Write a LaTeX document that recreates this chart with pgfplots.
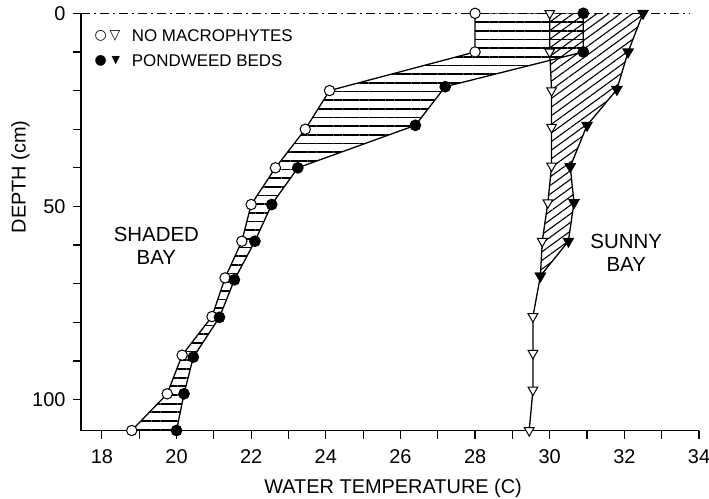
\documentclass[border=0pt]{standalone}
\usepackage{fontspec}
\setmainfont{Liberation Sans}
\newfontfamily\dejavu{DejaVu Sans}
\usepackage{pgfplots}
\pgfplotsset{compat=1.18}
\usetikzlibrary{patterns.meta}

\begin{document}
\begin{tikzpicture}
\useasboundingbox (0,0) rectangle (709bp,499bp);
\begin{axis}[
  at={(81bp,68.5bp)}, anchor=south west,
  width=618bp, height=417.2bp, scale only axis,
  xmin=17.44, xmax=34, ymin=0, ymax=108,
  y dir=reverse,
  axis x line*=bottom, axis y line*=left,
  axis line style={-, line width=1.2bp},
  xtick={18,20,...,34}, minor xtick={19,21,...,33},
  ytick={0,50,100}, minor ytick={10,20,30,40,60,70,80,90},
  tick align=outside,
  major tick length=8bp, minor tick length=8bp,
  tick style={black, line width=1.2bp},
  tick label style={font=\fontsize{20}{22}\selectfont},
  xticklabel style={yshift=-8bp},
  yticklabel style={xshift=-4bp},
  /pgf/number format/assume math mode=true,
  xlabel={WATER TEMPERATURE (C)}, ylabel={DEPTH (cm)},
  label style={font=\fontsize{20}{24}\selectfont},
  xlabel style={at={(axis description cs:0.505,-0.139)}, anchor=center},
  ylabel style={at={(axis description cs:-0.098,0.608)}, anchor=center},
  clip=false,
]
% hatched areas
\addplot[draw=none, forget plot, pattern={Lines[angle=36,distance=7pt,line width=1.1pt]}]
 coordinates {(30.0,0) (30.0,10) (30.05,20) (30.05,29.5) (30.05,39.5) (29.95,49) (29.8,59) (29.75,68)
  (30.5,59) (30.65,49) (30.55,39.7) (31.0,29) (31.8,19.7) (32.1,10) (32.5,0)} -- cycle;
\addplot[draw=none, forget plot, pattern={Lines[angle=0,distance=8.7pt,line width=1.7pt]}]
 coordinates {(28.0,0) (28.0,10) (24.1,20) (23.45,30) (22.65,40) (22.0,49.5) (21.75,59) (21.3,68.5)
  (20.95,78.5) (20.15,88.5) (19.75,98.5) (18.8,108)
  (20.0,108) (20.2,98.5) (20.45,89) (21.15,78.7) (21.55,69) (22.1,59) (22.55,49.5) (23.25,40)
  (26.4,29) (27.2,19) (30.9,10) (30.9,0)} -- cycle;

% top dash-dot line
\addplot[forget plot, black, line width=1.2bp, dash pattern=on 9bp off 4bp on 2bp off 4bp]
 coordinates {(17.44,0) (33.75,0)};

% shaded bay
\addplot[forget plot, black, line width=1.3bp, mark=*, mark size=5.2bp,
  mark options={solid, fill=white, line width=1bp}]
 coordinates {(28.0,0) (28.0,10) (24.1,20) (23.45,30) (22.65,40) (22.0,49.5) (21.75,59) (21.3,68.5)
  (20.95,78.5) (20.15,88.5) (19.75,98.5) (18.8,108)};
\addplot[forget plot, black, line width=1.3bp, mark=*, mark size=5.2bp,
  mark options={solid, fill=black}]
 coordinates {(30.9,0) (30.9,10) (27.2,19) (26.4,29) (23.25,40) (22.55,49.5) (22.1,59) (21.55,69)
  (21.15,78.7) (20.45,89) (20.2,98.5) (20.0,108)};

% sunny bay
\addplot[forget plot, black, line width=1.3bp, mark=triangle*, mark size=5.6bp,
  mark options={solid, fill=white, rotate=180, line width=1bp}]
 coordinates {(30.0,0) (30.0,10) (30.05,20) (30.05,29.5) (30.05,39.5) (29.95,49) (29.8,59) (29.75,68)
  (29.55,78.5) (29.55,88) (29.55,97.5) (29.45,108)};
\addplot[forget plot, black, line width=1.3bp, mark=triangle*, mark size=5.6bp,
  mark options={solid, fill=black, rotate=180}]
 coordinates {(32.5,0) (32.1,10) (31.8,19.7) (31.0,29) (30.55,39.7) (30.65,49) (30.5,59) (29.75,68)};

% legend
\node[inner sep=0pt, font=\dejavu\fontsize{14}{16}\selectfont] at (axis description cs:0.0319,0.9456) {○};
\node[inner sep=0pt, font=\dejavu\fontsize{14}{16}\selectfont] at (axis description cs:0.0550,0.9456) {▽};
\node[inner sep=0pt, font=\dejavu\fontsize{14}{16}\selectfont] at (axis description cs:0.0319,0.886) {●};
\node[inner sep=0pt, font=\dejavu\fontsize{11}{13}\selectfont] at (axis description cs:0.0565,0.886) {▼};
\node[anchor=west, inner sep=0pt, font=\fontsize{17}{20}\selectfont] at (axis description cs:0.082,0.9456) {NO MACROPHYTES};
\node[anchor=west, inner sep=0pt, font=\fontsize{17}{20}\selectfont] at (axis description cs:0.082,0.886) {PONDWEED BEDS};

\node[align=center, font=\fontsize{20.5}{23}\selectfont] at (axis cs:19.46,60.2) {SHADED\\BAY};
\node[align=center, font=\fontsize{20.5}{23}\selectfont] at (axis cs:32.05,62.05) {SUNNY\\BAY};
\end{axis}
\end{tikzpicture}
\end{document}
